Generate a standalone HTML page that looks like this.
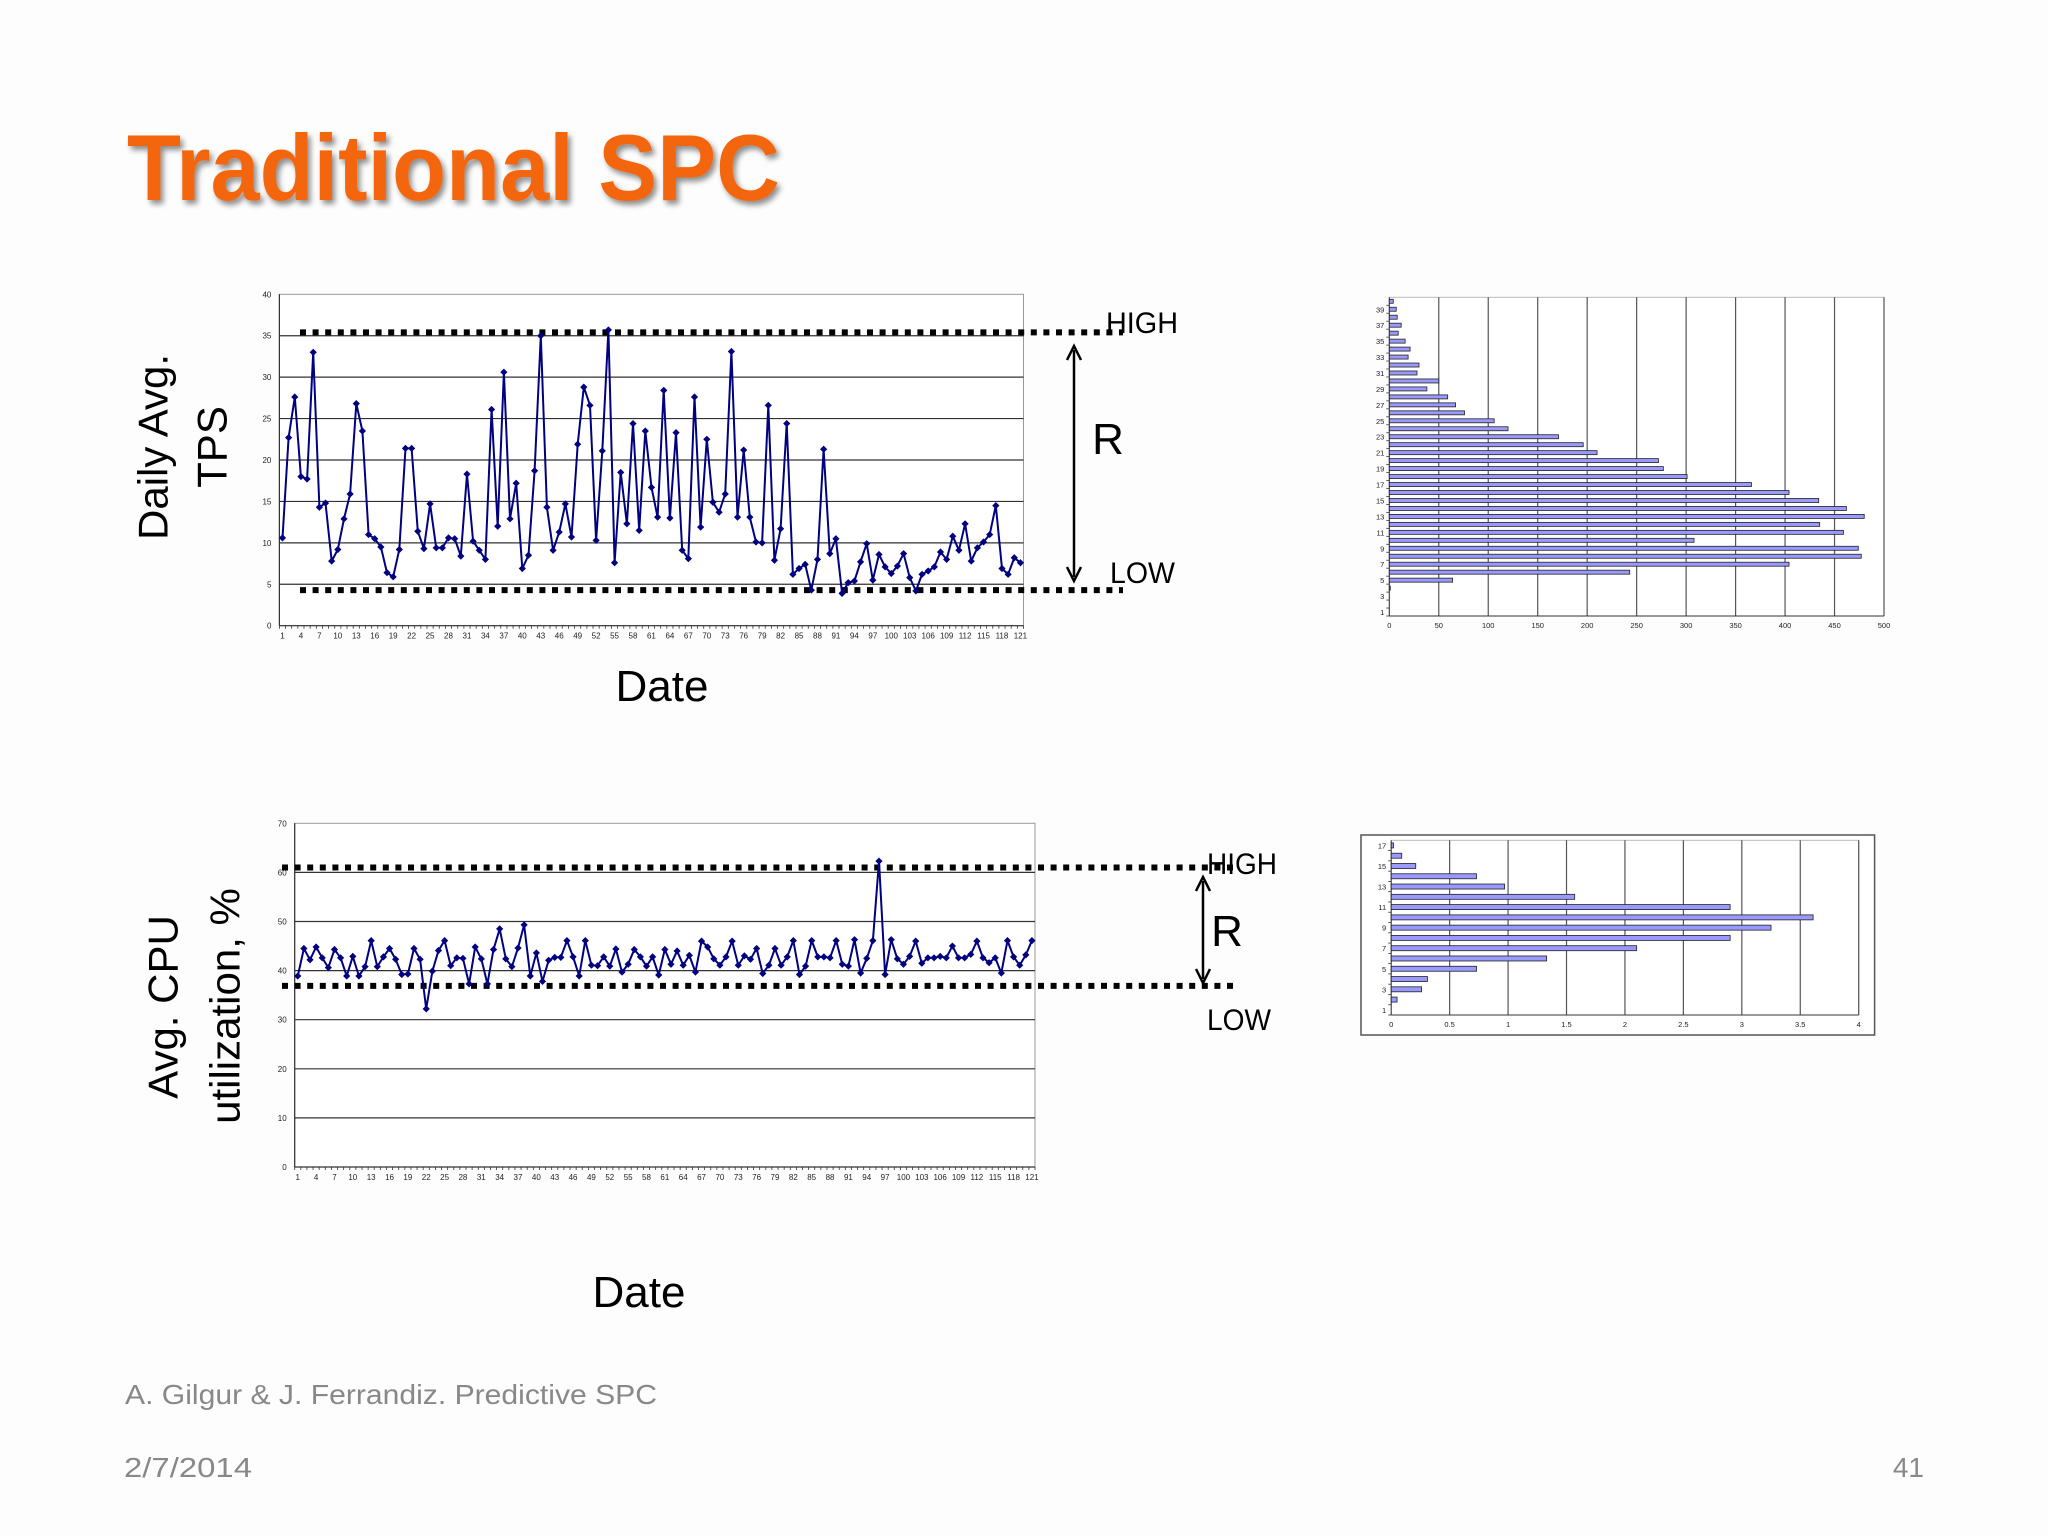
<!DOCTYPE html>
<html><head><meta charset="utf-8"><style>
html,body{margin:0;padding:0;background:#fff;}
svg{display:block;font-family:"Liberation Sans",sans-serif;}
</style></head><body>
<svg id="s" width="2048" height="1536" viewBox="0 0 2048 1536" xmlns="http://www.w3.org/2000/svg">
<defs><filter id="sh" x="-5%" y="-5%" width="110%" height="120%"><feGaussianBlur in="SourceAlpha" stdDeviation="3"/><feOffset dx="3" dy="4"/><feComponentTransfer><feFuncA type="linear" slope="0.45"/></feComponentTransfer><feMerge><feMergeNode/><feMergeNode in="SourceGraphic"/></feMerge></filter></defs>
<rect width="2048" height="1536" fill="#fdfdfd"/>
<text x="127" y="200" font-size="94" font-weight="bold" fill="#f4660c" textLength="653" lengthAdjust="spacingAndGlyphs" filter="url(#sh)">Traditional SPC</text>
<text transform="translate(153,447) rotate(-90)" text-anchor="middle" dominant-baseline="central" font-size="42" fill="#000">Daily Avg.</text>
<text transform="translate(212,447) rotate(-90)" text-anchor="middle" dominant-baseline="central" font-size="42" fill="#000">TPS</text>
<text x="662" y="701" text-anchor="middle" font-size="44">Date</text>
<text transform="translate(163,1007) rotate(-90)" text-anchor="middle" dominant-baseline="central" font-size="42">Avg. CPU</text>
<text transform="translate(225,1006) rotate(-90)" text-anchor="middle" dominant-baseline="central" font-size="42">utilization, %</text>
<text x="639" y="1307" text-anchor="middle" font-size="44">Date</text>
<text x="125" y="1404" font-size="28" fill="#888" textLength="532" lengthAdjust="spacingAndGlyphs">A. Gilgur &amp; J. Ferrandiz.  Predictive SPC</text>
<text x="124" y="1477" font-size="28" fill="#888" textLength="128" lengthAdjust="spacingAndGlyphs">2/7/2014</text>
<text x="1924" y="1477" font-size="28" fill="#888" text-anchor="end">41</text>
<text x="1106" y="333" font-size="30" textLength="72" lengthAdjust="spacingAndGlyphs">HIGH</text>
<text x="1110" y="583" font-size="30" textLength="65" lengthAdjust="spacingAndGlyphs">LOW</text>
<text x="1108" y="454" font-size="44" text-anchor="middle">R</text>
<text x="1207" y="874" font-size="30" textLength="70" lengthAdjust="spacingAndGlyphs">HIGH</text>
<text x="1207" y="1030" font-size="30" textLength="64" lengthAdjust="spacingAndGlyphs">LOW</text>
<text x="1227" y="946" font-size="44" text-anchor="middle">R</text>
<g>
<line x1="1074" y1="350" x2="1074" y2="577" stroke="#000" stroke-width="2.5"/>
<path d="M1067,360 L1074,346 L1081,360" fill="none" stroke="#000" stroke-width="2.5"/>
<path d="M1067,567 L1074,581 L1081,567" fill="none" stroke="#000" stroke-width="2.5"/>
</g>
<g>
<line x1="1203" y1="881" x2="1203" y2="979" stroke="#000" stroke-width="2.5"/>
<path d="M1196,891 L1203,877 L1210,891" fill="none" stroke="#000" stroke-width="2.5"/>
<path d="M1196,969 L1203,983 L1210,969" fill="none" stroke="#000" stroke-width="2.5"/>
</g>
<g id="g1"></g>
<g id="g2"></g>
<g id="g3"></g>
<g id="g4"></g>
</svg>
<script>
const tpsValues=[10.6,22.7,27.6,18.0,17.7,33.0,14.3,14.8,7.8,9.2,12.9,15.9,26.8,23.5,11.0,10.5,9.5,6.4,5.9,9.2,21.4,21.4,11.4,9.3,14.7,9.4,9.4,10.6,10.5,8.4,18.3,10.2,9.1,8.0,26.1,12.0,30.6,12.9,17.2,6.9,8.5,18.7,35.0,14.3,9.1,11.3,14.7,10.7,21.9,28.8,26.6,10.3,21.1,35.7,7.6,18.5,12.3,24.4,11.5,23.5,16.7,13.1,28.4,13.0,23.3,9.1,8.1,27.6,11.9,22.5,14.9,13.7,15.9,33.1,13.1,21.2,13.1,10.1,10.0,26.6,7.9,11.7,24.4,6.2,6.9,7.4,4.3,8.0,21.3,8.7,10.5,3.9,5.2,5.4,7.7,9.9,5.5,8.6,7.1,6.3,7.2,8.7,5.8,4.2,6.2,6.6,7.1,8.9,8.0,10.8,9.1,12.3,7.8,9.4,10.1,11.0,14.5,6.9,6.2,8.2,7.6];
const cpuValues=[38.9,44.5,42.2,44.8,42.6,40.6,44.3,42.6,38.9,42.9,38.9,40.8,46.1,40.8,42.8,44.5,42.3,39.2,39.3,44.5,42.3,32.2,39.9,44.1,46.1,41.0,42.6,42.5,37.3,44.8,42.4,37.3,44.3,48.5,42.4,40.8,44.6,49.3,38.9,43.6,37.8,42.1,42.7,42.7,46.1,42.8,38.9,46.1,41.1,41.0,42.8,40.9,44.4,39.7,41.3,44.3,42.8,40.9,42.8,39.1,44.3,41.3,44.0,41.1,43.1,39.7,46.0,44.8,42.4,41.1,42.8,46.0,41.1,43.0,42.3,44.5,39.4,41.1,44.5,41.1,42.8,46.1,39.2,40.9,46.1,42.8,42.8,42.6,46.1,41.3,40.9,46.3,39.5,42.5,46.1,62.3,39.2,46.3,42.4,41.3,42.9,46.0,41.5,42.6,42.6,42.9,42.6,45.0,42.6,42.6,43.3,46.0,42.6,41.6,42.6,39.5,46.1,42.8,41.1,43.2,46.1];
const tpsLimits=[35.4,4.3];
const cpuLimits=[61.0,36.9];
const tpsYTicks=[0,5,10,15,20,25,30,35,40];
const cpuYTicks=[0,10,20,30,40,50,60,70];
const tpsHistCounts=[0,0,0,1,64,243,404,477,474,308,459,435,480,462,434,404,366,301,277,272,210,196,171,120,106,76,67,59,38,50,28,30,19,21,16,9,12,8,7,4];
const tpsHistXTicks=[0,50,100,150,200,250,300,350,400,450,500];
const cpuHistValues=[0,0.05,0.26,0.31,0.73,1.33,2.1,2.9,3.25,3.61,2.9,1.57,0.97,0.73,0.21,0.09,0.02];
const cpuHistXTicks=[0,0.5,1,1.5,2,2.5,3,3.5,4];

const NS='http://www.w3.org/2000/svg';
function mk(parent,tag,attrs){const e=document.createElementNS(NS,tag);for(const k in attrs)e.setAttribute(k,attrs[k]);parent.appendChild(e);return e;}

function lineChart(g,vals,yTicks,limits,L,R,T,B,dotX1,dotX2,pfx){
  const yMax=yTicks[yTicks.length-1];
  const ys=v=>B-(v/yMax)*(B-T);
  const bw=(R-L)/vals.length;
  const xs=i=>L+bw*(i+0.5);
  const bg=mk(g,'rect',{x:L,y:T,width:R-L,height:B-T,fill:'#fff',stroke:'#999','stroke-width':1});
  
  
  yTicks.forEach(t=>{
    if(t>0&&t<yMax){const gl=mk(g,'line',{x1:L,x2:R,y1:ys(t),y2:ys(t),stroke:'#333','stroke-width':1.2});
      
      }
    const tl=mk(g,'text',{x:L-8,y:ys(t)+3,'font-size':8,'text-anchor':'end',fill:'#222'});tl.textContent=t;
    
    
  });
  mk(g,'line',{x1:L,x2:L,y1:T,y2:B,stroke:'#333','stroke-width':1.2});
  mk(g,'line',{x1:L,x2:R,y1:B,y2:B,stroke:'#333','stroke-width':1.2});
  for(let i=0;i<=vals.length;i++){mk(g,'line',{x1:L+bw*i,x2:L+bw*i,y1:B,y2:B+3,stroke:'#333','stroke-width':0.8});}
  for(let i=0;i<vals.length;i+=3){const tl=mk(g,'text',{x:xs(i),y:B+13,'font-size':8,'text-anchor':'middle',fill:'#222'});tl.textContent=i+1;
    
    }
  limits.forEach((v,k)=>{const dl=mk(g,'line',{x1:dotX1,x2:dotX2,y1:ys(v),y2:ys(v),stroke:'#000','stroke-width':6,'stroke-dasharray':'6 6.6'});
    
    });
  const pts=vals.map((v,i)=>xs(i).toFixed(1)+','+ys(v).toFixed(1)).join(' ');
  const pl=mk(g,'polyline',{points:pts,fill:'none',stroke:'#000080','stroke-width':2});
  
  
  vals.forEach((v,i)=>{const x=xs(i),y=ys(v),r=3.6;
    const m=mk(g,'path',{d:`M${x},${y-r}L${x+r},${y}L${x},${y+r}L${x-r},${y}Z`,fill:'#000080'});
    
    });
}
function barChart(g,vals,xTicks,L,R,T,B,barH,frame,pfx){
  const xMax=xTicks[xTicks.length-1];
  const xs=v=>L+(v/xMax)*(R-L);
  const bh=(B-T)/vals.length;
  if(frame){const fr=mk(g,'rect',{x:frame[0],y:frame[1],width:frame[2],height:frame[3],fill:'#fff',stroke:'#555','stroke-width':1.5});
    
    }
  mk(g,'rect',{x:L,y:T,width:R-L,height:B-T,fill:'#fff',stroke:'#bbb','stroke-width':1});
  xTicks.forEach(t=>{
    if(t>0){const gl=mk(g,'line',{x1:xs(t),x2:xs(t),y1:T,y2:B,stroke:'#555','stroke-width':1.2});
      
      }
    const tl=mk(g,'text',{x:xs(t),y:B+12,'font-size':7.5,'text-anchor':'middle',fill:'#222'});tl.textContent=t;
    
    
  });
  mk(g,'line',{x1:L,x2:L,y1:T,y2:B,stroke:'#333','stroke-width':1});
  mk(g,'line',{x1:L,x2:R,y1:B,y2:B,stroke:'#333','stroke-width':1});
  vals.forEach((v,i)=>{
    const cy=B-bh*(i+0.5);
    mk(g,'line',{x1:L-3,x2:L,y1:B-bh*i,y2:B-bh*i,stroke:'#333','stroke-width':0.8});
    if(i%2===0){const tl=mk(g,'text',{x:L-5,y:cy+3,'font-size':7.5,'text-anchor':'end',fill:'#222'});tl.textContent=i+1;
      
      }
    if(v>0){const b=mk(g,'rect',{x:L,y:cy-barH/2,width:Math.max(xs(v)-L,1),height:barH,fill:'#9999ff',stroke:'#222','stroke-width':0.8});
      
      }
  });
}
lineChart(document.getElementById('g1'),tpsValues,tpsYTicks,tpsLimits,279.4,1023.5,294.3,625.7,300,1123,'tps');
lineChart(document.getElementById('g2'),cpuValues,cpuYTicks,cpuLimits,294.7,1035,823.3,1167,282,1234,'cpu');
barChart(document.getElementById('g3'),tpsHistCounts,tpsHistXTicks,1389.3,1884,297.3,616,4,null,'tps-hist');
barChart(document.getElementById('g4'),cpuHistValues,cpuHistXTicks,1391.2,1858.7,840.3,1015,5,[1361,835,513.6,200],'cpu-hist');
</script>
</body></html>
